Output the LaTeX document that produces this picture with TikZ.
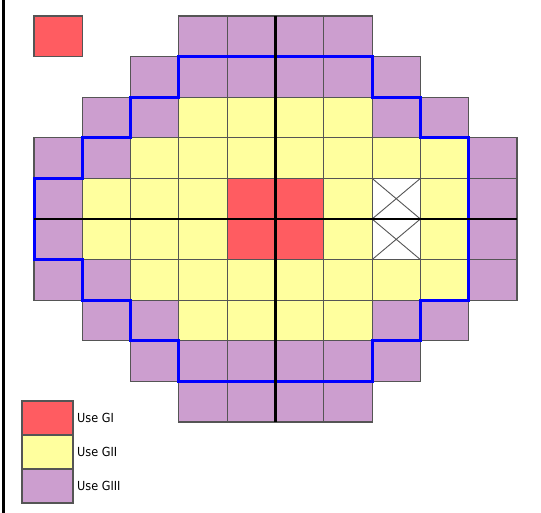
\documentclass[tikz,border=0pt]{standalone}
\usepackage{fontspec}
\setmainfont{DejaVu Sans}
\newfontfamily\legfont[FakeStretch=0.9]{DejaVu Sans}
\definecolor{cred}{HTML}{FF5C61}
\definecolor{cyel}{HTML}{FFFF9E}
\definecolor{cpur}{HTML}{CC9ECF}
\definecolor{cedge}{HTML}{555555}
\definecolor{cblue}{HTML}{0000FF}
\begin{document}
\begin{tikzpicture}[x=1pt,y=-1pt,
  cell/.style={draw=cedge, line width=1.1pt},
  axisline/.style={black, line width=2.4pt},
  bound/.style={cblue, line width=3pt, line join=miter},
  legtext/.style={anchor=west, inner sep=0pt, font=\legfont\fontsize{12.5}{14}\selectfont}]
\useasboundingbox (0,0) rectangle (541,513);
\fill[white] (0,0) rectangle (541,513);
\draw[black, line width=3pt] (3,0) -- (3,513);
\begin{scope}[shift={(34pt,-16pt)}, x=48.3pt, y=-40.6pt]
  % purple cells
  \foreach \c/\r in {3/0,4/0,5/0,6/0,
                     2/1,3/1,4/1,5/1,6/1,7/1,
                     1/2,2/2,7/2,8/2,
                     0/3,1/3,9/3,
                     0/4,9/4,0/5,9/5,
                     0/6,1/6,9/6,
                     1/7,2/7,7/7,8/7,
                     2/8,3/8,4/8,5/8,6/8,7/8,
                     3/9,4/9,5/9,6/9}
    \filldraw[cell, fill=cpur] (\c,\r) rectangle ++(1,1);
  % yellow cells
  \foreach \c/\r in {3/2,4/2,5/2,6/2,
                     2/3,3/3,4/3,5/3,6/3,7/3,8/3,
                     1/4,2/4,3/4,6/4,8/4,
                     1/5,2/5,3/5,6/5,8/5,
                     2/6,3/6,4/6,5/6,6/6,7/6,8/6,
                     3/7,4/7,5/7,6/7}
    \filldraw[cell, fill=cyel] (\c,\r) rectangle ++(1,1);
  % red cells
  \foreach \c/\r in {0/0,4/4,5/4,4/5,5/5}
    \filldraw[cell, fill=cred] (\c,\r) rectangle ++(1,1);
  % crossed white cells
  \foreach \c/\r in {7/4,7/5}{
    \filldraw[cell, fill=white] (\c,\r) rectangle ++(1,1);
    \draw[cedge, line width=0.9pt] (\c,\r) -- ++(1,1) (\c+1,\r) -- ++(-1,1);
  }
  % boundary
  \draw[bound] (3,1) -- (7,1) -- (7,2) -- (8,2) -- (8,3) -- (9,3) -- (9,7)
    -- (8,7) -- (8,8) -- (7,8) -- (7,9) -- (3,9) -- (3,8) -- (2,8) -- (2,7)
    -- (1,7) -- (1,6) -- (0,6) -- (0,4) -- (1,4) -- (1,3) -- (2,3) -- (2,2)
    -- (3,2) -- cycle;
  % axes
  \coordinate (vt) at (5,0);
  \coordinate (vb) at (5,10);
  \coordinate (hl) at (0,5);
  \coordinate (hr) at (10,5);
  \draw[axisline] (vt) -- (vb);
  \draw[axisline] (hl) -- (hr);
\end{scope}
% legend
\filldraw[cell, fill=cred] (22,401) rectangle (73,435);
\filldraw[cell, fill=cyel] (22,435) rectangle (73,469);
\filldraw[cell, fill=cpur] (22,469) rectangle (73,503);
\node[legtext] (l1) at (77,418) {Use GI};
\node[legtext] (l2) at (77,452) {Use GII};
\node[legtext] (l3) at (77,486) {Use GIII};
\end{tikzpicture}
\end{document}
